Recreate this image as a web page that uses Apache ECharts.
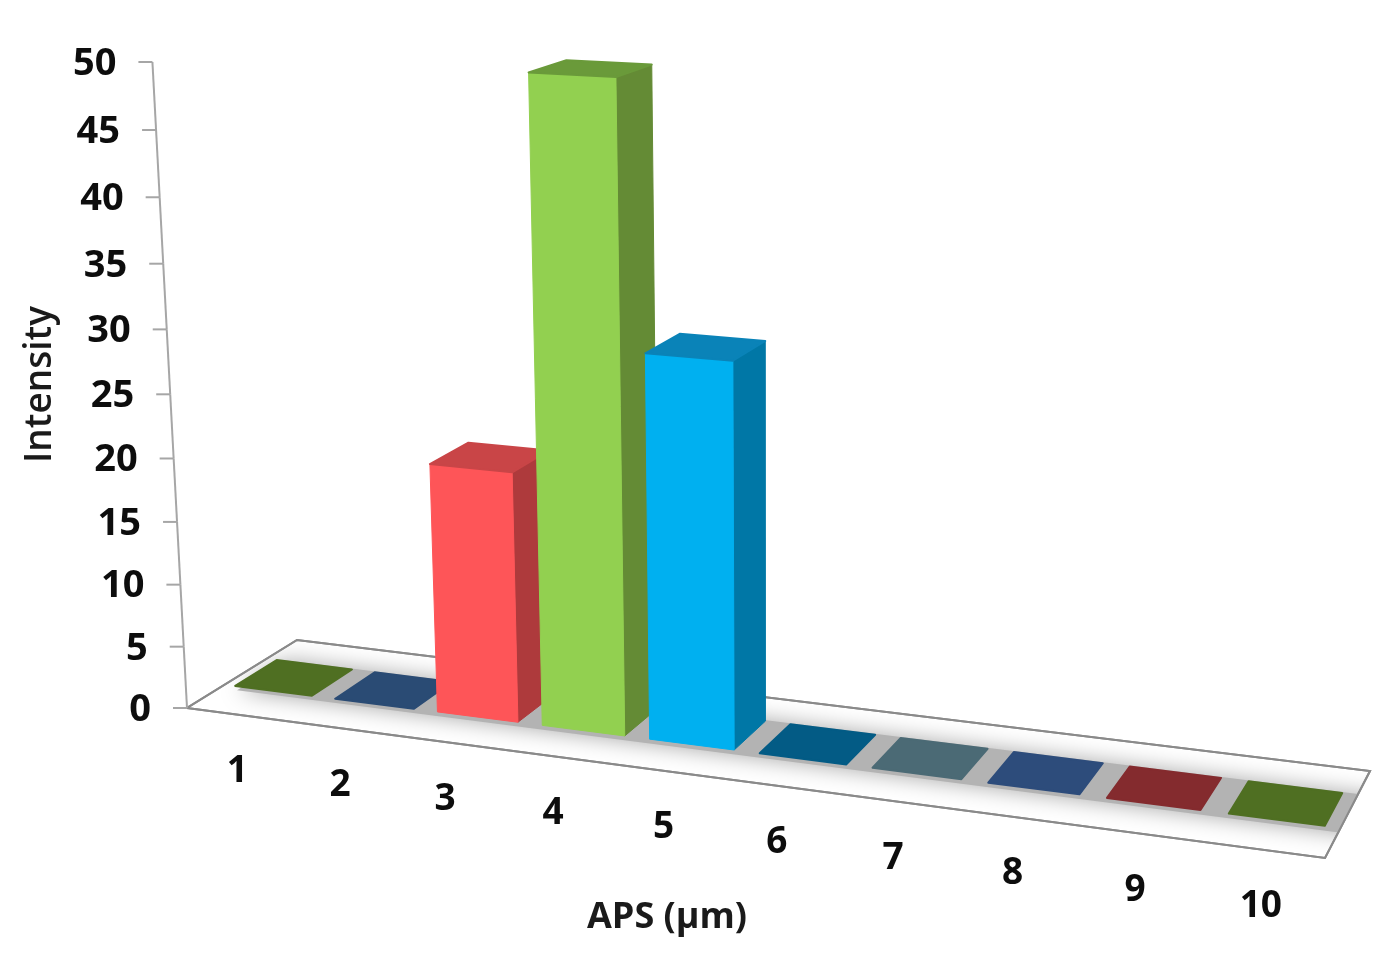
<!DOCTYPE html>
<html>
<head>
<meta charset="utf-8">
<title>APS</title>
<script src="https://cdn.jsdelivr.net/npm/echarts@6/dist/echarts.min.js"></script>
<style>
  html, body { margin: 0; padding: 0; background: #fff; }
  #chart { width: 1396px; height: 956px; }
</style>
</head>
<body>
<div id="chart"></div>
<script>
// data
const categories = ['1', '2', '3', '4', '5', '6', '7', '8', '9', '10']
const intensity = [0, 0, 19.8, 49.8, 29.8, 0, 0, 0, 0, 0]
const yTicks = [0, 5, 10, 15, 20, 25, 30, 35, 40, 45, 50]

// colours per bar
const frontColors = ['#4f6f22', '#2a4b74', '#fe5558', '#92d050', '#00b0f0', '#035b85', '#4b6a75', '#2d4c7b', '#842b2e', '#4f6f22']
const sideColors = ['#3f5a1b', '#223d5e', '#ae3a3c', '#648b35', '#0077a6', '#024a6c', '#3c5660', '#243e64', '#6b2225', '#3f5a1b']
const topColors = ['#4f6f22', '#2a4b74', '#c94547', '#6a9a3a', '#0a83b8', '#035b85', '#4b6a75', '#2d4c7b', '#842b2e', '#4f6f22']

const yMax = 50
const GREY = '#a6a6a6'
const FONT = '"Open Sans", "Noto Sans", sans-serif'

// camera: floor corners on screen + vertical vanishing point, turns the flat grid into the 3D view
const floorCorners = [[187, 708], [1325, 858], [1370, 771], [297, 640]] // front-left, front-right, back-right, back-left
const vanish = [770, 11600]
const axisTop = 62

const makeProjection = () => {
  const [[x0, y0], [x1, y1], [x2, y2], [x3, y3]] = floorCorners
  const sx = x0 - x1 + x2 - x3, sy = y0 - y1 + y2 - y3
  const dx1 = x1 - x2, dx2 = x3 - x2, dy1 = y1 - y2, dy2 = y3 - y2
  const det = dx1 * dy2 - dx2 * dy1
  const g = (sx * dy2 - dx2 * sy) / det
  const h = (dx1 * sy - sx * dy1) / det
  const a = x1 - x0 + g * x1, b = x3 - x0 + h * x3
  const d = y1 - y0 + g * y1, e = y3 - y0 + h * y3
  const s = (y0 - axisTop) / (axisTop - vanish[1]) // height scale so that yMax lands on axisTop
  // u along the categories, w into the depth, n height, all 0..1
  return (u, w, n) => {
    const W = 1 + g * u + h * w + n * s
    return [
      (a * u + b * w + x0 + n * s * vanish[0]) / W,
      (d * u + e * w + y0 + n * s * vanish[1]) / W,
    ]
  }
}
const project = makeProjection()

// flat grid position -> 0..1
const norm = (params, pt) => {
  const cs = params.coordSys
  return [(pt[0] - cs.x) / cs.width, (cs.y + cs.height - pt[1]) / cs.height]
}

const poly = (points, fill, extra) => ({
  type: 'polygon',
  shape: { points },
  style: Object.assign({ fill }, extra),
})

const renderFloor = (params, api) => {
  const corners = [[0, 0], [1, 0], [1, 1], [0, 1]].map(c => project(c[0], c[1], 0))
  const band = [[0.018, 0.28], [1.04, 0.28], [1.04, 0.72], [0.018, 0.72]].map(c => project(c[0], c[1], 0))
  return {
    type: 'group',
    children: [
      poly(corners, '#fff', { stroke: '#8a8a8a', lineWidth: 2 }),
      {
        type: 'group',
        clipPath: { type: 'polygon', shape: { points: corners } },
        children: [poly(band, '#b3b3b3', { shadowBlur: 22, shadowColor: '#a8a8a8' })],
      },
      poly(corners, 'transparent', { stroke: '#8a8a8a', lineWidth: 2 }),
    ],
  }
}

const renderTick = (params, api) => {
  const n = norm(params, api.coord([0, api.value(1)]))[1]
  const p = project(0, 0, n)
  const q = project(0, 0, n + (yTicks[1] - yTicks[0]) / yMax)
  const children = [
    { type: 'line', shape: { x1: p[0] - 14, y1: p[1], x2: p[0], y2: p[1] }, style: { stroke: GREY, lineWidth: 2 } },
    {
      type: 'text',
      style: {
        text: String(api.value(1)),
        x: p[0] - 36,
        y: p[1] + 2,
        align: 'right',
        verticalAlign: 'middle',
        font: 'bold 38px ' + FONT,
        fill: '#0d0d0d',
      },
    },
  ]
  if (n < 0.999) {
    children.push({ type: 'line', shape: { x1: p[0], y1: p[1], x2: q[0], y2: q[1] }, style: { stroke: GREY, lineWidth: 2 } })
  }
  return { type: 'group', children }
}

const renderBar = (params, api) => {
  const i = api.value(0)
  const c = norm(params, api.coord([i, api.value(1)]))
  const halfBand = api.size([1, 0])[0] / params.coordSys.width / 2
  const mid = c[0] - 0.001
  const u0 = mid - halfBand * 0.77, u1 = mid + halfBand * 0.77
  const w0 = 0.33, w1 = 0.71
  const h = c[1]

  const children = []
  if (h > 0) {
    children.push(poly([project(u1, w0, 0), project(u1, w1, 0), project(u1, w1, h), project(u1, w0, h)], sideColors[i], { stroke: sideColors[i], lineWidth: 1 }))
    children.push(poly([project(u0, w0, 0), project(u1, w0, 0), project(u1, w0, h), project(u0, w0, h)], frontColors[i], { stroke: frontColors[i], lineWidth: 1 }))
  }
  children.push(poly([project(u0, w0, h), project(u1, w0, h), project(u1, w1, h), project(u0, w1, h)], topColors[i], { stroke: topColors[i], lineWidth: 2, lineJoin: 'round' }))

  const lab = project(c[0], 0, 0)
  children.push({
    type: 'text',
    style: {
      text: categories[i],
      x: lab[0],
      y: lab[1] + 57,
      align: 'center',
      verticalAlign: 'middle',
      font: 'bold 37px ' + FONT,
      fill: '#0d0d0d',
    },
  })
  return { type: 'group', children }
}

const mychart = echarts.init(document.getElementById('chart'), null, { renderer: 'canvas' })
mychart.setOption({
  backgroundColor: '#fff',
  animation: false,
  // flat grid only carries the scales, the drawing goes through project()
  grid: { left: 60, width: 1214, top: 62, height: 645 },
  xAxis: {
    type: 'category',
    data: categories,
    axisLine: { show: false },
    axisTick: { show: false },
    axisLabel: { show: false },
    name: 'APS (µm)',
    nameLocation: 'middle',
    nameGap: 193,
    nameTextStyle: { fontFamily: FONT, fontWeight: 'bold', fontSize: 36, color: '#1a1a1a' },
  },
  yAxis: {
    type: 'value',
    min: 0,
    max: yMax,
    interval: 5,
    axisLine: { show: false },
    axisTick: { show: false },
    axisLabel: { show: false },
    splitLine: { show: false },
    name: 'Intensity',
    nameLocation: 'middle',
    nameGap: 1,
    nameTextStyle: { fontFamily: FONT, fontWeight: 600, fontSize: 37, color: '#1a1a1a' },
  },
  series: [
    { type: 'custom', silent: true, z: 1, renderItem: renderFloor, data: [[0, 0]], encode: { x: 0, y: 1 } },
    { type: 'custom', silent: true, z: 2, renderItem: renderTick, data: yTicks.map(v => [0, v]), encode: { x: 0, y: 1 } },
    { type: 'custom', silent: true, z: 3, renderItem: renderBar, data: intensity.map((v, i) => [i, v]), encode: { x: 0, y: 1 } },
  ],
})
</script>
</body>
</html>
